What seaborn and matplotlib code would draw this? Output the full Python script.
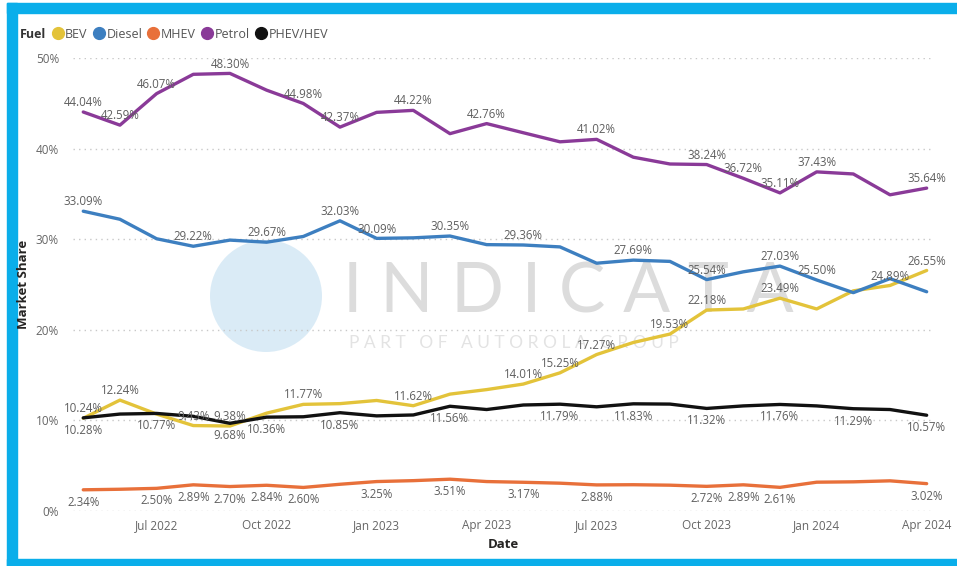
import matplotlib
matplotlib.use("Agg")
import matplotlib.pyplot as plt
import seaborn as sns
import pandas as pd
from matplotlib.lines import Line2D
from matplotlib.patches import Rectangle, Ellipse

# ---------------- data ----------------
months = ["May 2022", "Jun 2022", "Jul 2022", "Aug 2022", "Sep 2022", "Oct 2022",
          "Nov 2022", "Dec 2022", "Jan 2023", "Feb 2023", "Mar 2023", "Apr 2023",
          "May 2023", "Jun 2023", "Jul 2023", "Aug 2023", "Sep 2023", "Oct 2023",
          "Nov 2023", "Dec 2023", "Jan 2024", "Feb 2024", "Mar 2024", "Apr 2024"]
tick_labels = ["Jul 2022", "Oct 2022", "Jan 2023", "Apr 2023",
               "Jul 2023", "Oct 2023", "Jan 2024", "Apr 2024"]
fuels = ["BEV", "Diesel", "MHEV", "Petrol", "PHEV/HEV"]

bev = [10.24, 12.24, 10.70, 9.43, 9.38, 10.80, 11.77, 11.85, 12.20, 11.62, 12.90, 13.40,
       14.01, 15.25, 17.27, 18.60, 19.53, 22.18, 22.30, 23.49, 22.30, 24.30, 24.89, 26.55]
diesel = [33.09, 32.20, 30.05, 29.22, 29.90, 29.67, 30.30, 32.03, 30.09, 30.15, 30.35, 29.40,
          29.36, 29.15, 27.35, 27.69, 27.55, 25.54, 26.40, 27.03, 25.50, 24.10, 25.65, 24.20]
mhev = [2.34, 2.40, 2.50, 2.89, 2.70, 2.84, 2.60, 2.95, 3.25, 3.35, 3.51, 3.25,
        3.17, 3.07, 2.88, 2.90, 2.85, 2.72, 2.89, 2.61, 3.18, 3.22, 3.33, 3.02]
petrol = [44.04, 42.59, 46.07, 48.20, 48.30, 46.45, 44.98, 42.37, 44.00, 44.22, 41.65, 42.76,
          41.75, 40.75, 41.02, 39.05, 38.30, 38.24, 36.72, 35.11, 37.43, 37.20, 34.90, 35.64]
phev = [10.28, 10.70, 10.77, 10.45, 9.68, 10.36, 10.40, 10.85, 10.50, 10.60, 11.56, 11.20,
        11.70, 11.79, 11.50, 11.83, 11.80, 11.32, 11.60, 11.76, 11.60, 11.29, 11.20, 10.57]

# which points carry a data label, and on which side
bev_labels = [0, 1, 3, 4, 6, 9, 12, 13, 14, 16, 17, 19, 22, 23]
diesel_labels = [0, 3, 5, 7, 8, 10, 12, 15, 17, 19, 20]
mhev_labels = [0, 2, 3, 4, 5, 6, 8, 10, 12, 14, 17, 18, 19, 23]
petrol_labels = [0, 1, 2, 4, 6, 7, 9, 11, 14, 17, 18, 19, 20, 23]
phev_labels = [0, 2, 4, 5, 7, 10, 13, 15, 17, 19, 21, 23]

series = {"BEV": bev, "Diesel": diesel, "MHEV": mhev, "Petrol": petrol, "PHEV/HEV": phev}
label_spec = {"BEV": (bev_labels, "above"), "Diesel": (diesel_labels, "above"),
              "MHEV": (mhev_labels, "below"), "Petrol": (petrol_labels, "above"),
              "PHEV/HEV": (phev_labels, "below")}
palette = {"BEV": "#E3C33A", "Diesel": "#3D7FC0", "MHEV": "#E8703A",
           "Petrol": "#8A3A98", "PHEV/HEV": "#111111"}

rows = []
for f in fuels:
    for i, v in enumerate(series[f]):
        rows.append({"Fuel": f, "idx": i, "Date": months[i], "share": v})
df = pd.DataFrame(rows)

# ---------------- figure ----------------
sns.set_style("white")
plt.rcParams["font.family"] = ["Open Sans", "DejaVu Sans"]

W, H = 957, 566
fig = plt.figure(figsize=(W / 100, H / 100), dpi=100)
fig.patch.set_facecolor("white")

def fx(px):
    return px / W

def fy(py):
    return 1 - py / H

# frame (blue border)
border = "#0AAEEA"
fig.patches.append(Rectangle((fx(7), fy(13)), 1, fy(3) - fy(13), transform=fig.transFigure,
                             color=border, zorder=0))
fig.patches.append(Rectangle((fx(7), 0), fx(9.5), fy(3), transform=fig.transFigure,
                             color=border, zorder=0))
fig.patches.append(Rectangle((fx(7), 0), 1, fy(559), transform=fig.transFigure,
                             color=border, zorder=0))

# watermark (drawn beneath the axes)
fig.patches.append(Ellipse((fx(266), fy(296)), 112 / W, 112 / H, transform=fig.transFigure,
                           facecolor="#D4E8F5", edgecolor="none", alpha=0.85, zorder=0))
fig.text(fx(568), fy(293), "I N D I C A T A", fontsize=50, color="#DCDCDC",
         ha="center", va="center", fontweight="normal", zorder=0,
         family=["Lato", "DejaVu Sans"])
fig.text(fx(349), fy(343), "P A R T   O F   A U T O R O L A   G R O U P", fontsize=12.5,
         color="#E3E3E3", ha="left", va="center", zorder=0, family=["Lato", "DejaVu Sans"])

# axes: x = month index, 0% at y=511px, 50% at y=58px
x0 = -0.28
x1 = 23.2
ax = fig.add_axes([fx(73), fy(511), fx(934) - fx(73), fy(58) - fy(511)])
ax.set_facecolor("none")
ax.set_zorder(2)

sns.lineplot(data=df, x="idx", y="share", hue="Fuel", hue_order=fuels, palette=palette,
             linewidth=2.4, legend=False, ax=ax, sort=False, zorder=3)

ax.set_xlim(x0, x1)
ax.set_ylim(0, 50)
ax.set_yticks([0, 10, 20, 30, 40, 50])
ax.set_yticklabels([f"{t}%" for t in [0, 10, 20, 30, 40, 50]])
ax.set_xticks([months.index(t) for t in tick_labels])
ax.set_xticklabels(tick_labels)
ax.tick_params(axis="both", length=0, labelsize=8.5, labelcolor="#666666")
ax.tick_params(axis="y", pad=10)
ax.tick_params(axis="x", pad=6)
ax.grid(axis="y", linestyle=(0, (1, 3)), color="#C8C8C8", linewidth=1.0)
ax.grid(axis="x", visible=False)
for s in ax.spines.values():
    s.set_visible(False)

ax.set_xlabel("Date", fontsize=9.5, fontweight="bold", color="#252423", labelpad=4)
ax.set_ylabel("Market Share", fontsize=9.5, fontweight="bold", color="#252423")
ax.yaxis.set_label_coords((30 - 73) / (934 - 73), 0.5)

# data labels
for f in fuels:
    idxs, side = label_spec[f]
    vals = series[f]
    for i in idxs:
        off = 9 if side == "above" else -12
        ax.annotate(f"{vals[i]:.2f}%", (i, vals[i]), xytext=(0, off * 0.75),
                    textcoords="offset points", ha="center", va="center",
                    fontsize=8.3, color="#5F5F5F", zorder=4, annotation_clip=False)

# legend
fig.text(fx(20), fy(34), "Fuel", fontsize=9, fontweight="bold", color="#333333",
         ha="left", va="center", zorder=3)
handles = [Line2D([], [], marker="o", linestyle="none", markersize=8.5,
                  markerfacecolor=palette[f], markeredgecolor=palette[f]) for f in fuels]
leg = fig.legend(handles, fuels, loc="center left", bbox_to_anchor=(fx(50), fy(34)), ncol=5,
                 frameon=False, handletextpad=0.0, columnspacing=0.3, handlelength=1.2,
                 fontsize=9.0, labelcolor="#555555", borderaxespad=0, borderpad=0)
leg.set_zorder(3)

fig.savefig("out.png", dpi=100, facecolor="white")
